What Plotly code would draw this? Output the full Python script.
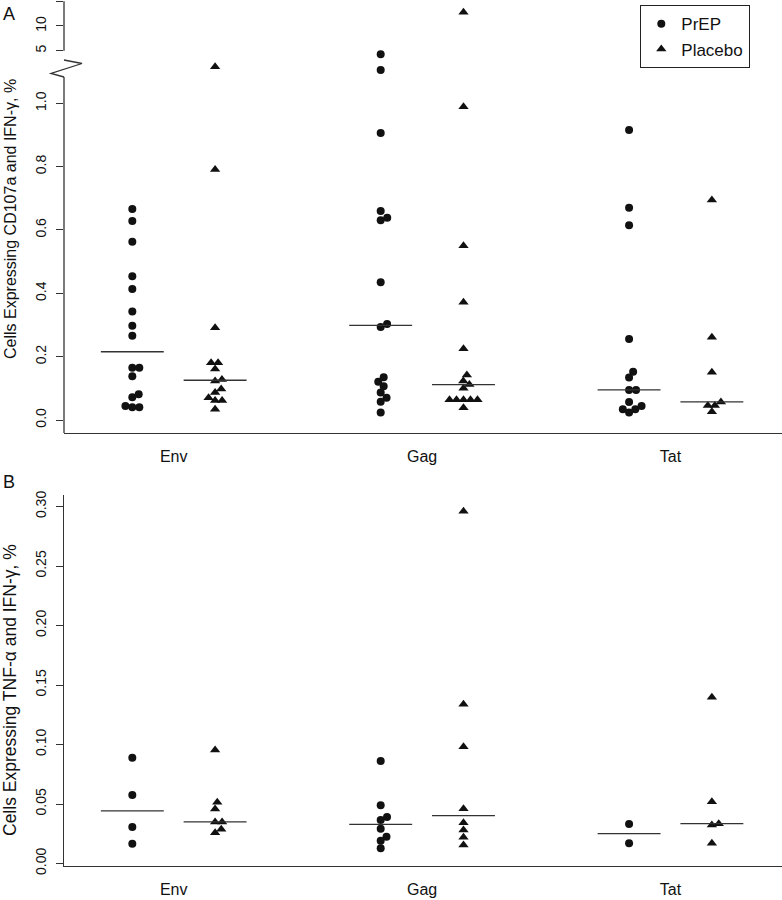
import numpy as np
import plotly.graph_objects as go

# ---------------- data ----------------
categories = ["Env", "Gag", "Tat"]
treatments = ["PrEP", "Placebo"]

# Panel A: cells expressing CD107a and IFN-gamma, %
A_env_prep = [0.666, 0.628, 0.563, 0.454, 0.414, 0.343, 0.298, 0.266, 0.165, 0.165,
              0.138, 0.081, 0.072, 0.044, 0.040, 0.040]
A_env_placebo = [1.115, 0.791, 0.291, 0.181, 0.181, 0.161, 0.128, 0.123, 0.098, 0.087,
                 0.070, 0.062, 0.062, 0.034]
A_gag_prep = [4.27, 1.105, 0.906, 0.660, 0.639, 0.631, 0.435, 0.303, 0.294, 0.135,
              0.121, 0.107, 0.087, 0.070, 0.058, 0.024]
A_gag_placebo = [12.77, 0.989, 0.550, 0.372, 0.225, 0.142, 0.123, 0.112, 0.100, 0.064,
                 0.064, 0.064, 0.064, 0.064, 0.039]
A_tat_prep = [0.916, 0.670, 0.615, 0.256, 0.152, 0.134, 0.095, 0.095, 0.057, 0.044,
              0.034, 0.034, 0.024]
A_tat_placebo = [0.695, 0.261, 0.151, 0.057, 0.046, 0.046, 0.026]

# Panel B: cells expressing TNF-alpha and IFN-gamma, %
B_env_prep = [0.0889, 0.0576, 0.0307, 0.0167]
B_env_placebo = [0.0954, 0.0514, 0.0458, 0.0349, 0.0349, 0.0287, 0.0259]
B_gag_prep = [0.0861, 0.0489, 0.0391, 0.0366, 0.0293, 0.0225, 0.0192, 0.0128]
B_gag_placebo = [0.296, 0.1338, 0.0982, 0.0461, 0.0343, 0.0282, 0.0220, 0.0155]
B_tat_prep = [0.0332, 0.0170]
B_tat_placebo = [0.1397, 0.0519, 0.0335, 0.0324, 0.0170]

A_lower_ticks = [0.0, 0.2, 0.4, 0.6, 0.8, 1.0]
A_upper_ticks = [5, 10, 15]
A_upper_ticklabels = ["5", "10", ""]
B_ticks = [0.00, 0.05, 0.10, 0.15, 0.20, 0.25, 0.30]

GAP_VALUE = 2.0  # values above the axis break go to the upper segment

panelA = {"PrEP": [A_env_prep, A_gag_prep, A_tat_prep],
          "Placebo": [A_env_placebo, A_gag_placebo, A_tat_placebo]}
panelB = {"PrEP": [B_env_prep, B_gag_prep, B_tat_prep],
          "Placebo": [B_env_placebo, B_gag_placebo, B_tat_placebo]}

# ---------------- layout geometry (pixels) ----------------
W, H = 782, 900
X_LEFT = 64
XR = [0.175, 8.847]
A_BOT, A_SPLIT, A_TOP = 433, 58, 0
A_LOW_R = [-0.041, 1.143]
A_UP_R = [3.52, 15.26]
B_BOT, B_TOP = 866, 495
B_R = [-0.0021, 0.3097]

PX_X = (W - X_LEFT) / (XR[1] - XR[0])
PX_A_LOW = (A_BOT - A_SPLIT) / (A_LOW_R[1] - A_LOW_R[0])
PX_A_UP = (A_SPLIT - A_TOP) / (A_UP_R[1] - A_UP_R[0])
PX_B = (B_BOT - B_TOP) / (B_R[1] - B_R[0])


def fy(px):
    return 1 - px / H


def fx(px):
    return px / W


def swarm(values, y_scale, d=7.0):
    v = np.asarray(values, float)
    order = np.argsort(v, kind="stable")
    placed = []
    off = np.zeros(len(v))
    for i in order:
        y = v[i] * y_scale
        cands = [0.0]
        for xj, yj in placed:
            dy = abs(y - yj)
            if dy < d:
                dx = np.sqrt(d * d - dy * dy)
                cands.extend([xj + dx, xj - dx])
        ok = [c for c in cands
              if all((c - xj) ** 2 + (y - yj) ** 2 >= d * d - 1e-6 for xj, yj in placed)]
        best = min(ok, key=lambda c: (round(abs(c), 6), -c))
        off[i] = best
        placed.append((best, y))
    return off / PX_X


def position(ci, ti):
    return 3 * ci + 1 + ti


SYMBOLS = {"PrEP": "circle", "Placebo": "triangle-up"}
SIZES = {"PrEP": 8, "Placebo": 9}
INK = "#111111"
FONT = "Liberation Sans, Arial, Helvetica, sans-serif"

fig = go.Figure()

# ---- panel A ----
for ti, t in enumerate(treatments):
    xl, yl, xu, yu = [], [], [], []
    for ci, vals in enumerate(panelA[t]):
        vals = np.asarray(vals, float)
        low = vals[vals <= GAP_VALUE]
        up = vals[vals > GAP_VALUE]
        p = position(ci, ti)
        if len(low):
            xl += list(p + swarm(low, PX_A_LOW))
            yl += list(low)
        if len(up):
            xu += list(p + swarm(up, PX_A_UP))
            yu += list(up)
    fig.add_trace(go.Scatter(x=xl, y=yl, mode="markers", name=t, xaxis="x", yaxis="y",
                             marker=dict(symbol=SYMBOLS[t], size=SIZES[t], color=INK,
                                         line=dict(width=0)),
                             showlegend=True, cliponaxis=False))
    fig.add_trace(go.Scatter(x=xu, y=yu, mode="markers", name=t, xaxis="x", yaxis="y2",
                             marker=dict(symbol=SYMBOLS[t], size=SIZES[t], color=INK,
                                         line=dict(width=0)),
                             showlegend=False, cliponaxis=False))

# ---- panel B ----
for ti, t in enumerate(treatments):
    xs, ys = [], []
    for ci, vals in enumerate(panelB[t]):
        vals = np.asarray(vals, float)
        p = position(ci, ti)
        xs += list(p + swarm(vals, PX_B))
        ys += list(vals)
    fig.add_trace(go.Scatter(x=xs, y=ys, mode="markers", name=t, xaxis="x2", yaxis="y3",
                             marker=dict(symbol=SYMBOLS[t], size=SIZES[t], color=INK,
                                         line=dict(width=0)),
                             showlegend=False, cliponaxis=False))

# ---- medians ----
HALF = 0.38
for panel, xa, ya in [(panelA, "x", "y"), (panelB, "x2", "y3")]:
    mx, my = [], []
    for ti, t in enumerate(treatments):
        for ci, vals in enumerate(panel[t]):
            m = float(np.median(vals))
            p = position(ci, ti)
            mx += [p - HALF, p + HALF, None]
            my += [m, m, None]
    fig.add_trace(go.Scatter(x=mx, y=my, mode="lines", xaxis=xa, yaxis=ya,
                             line=dict(color="#333333", width=1.3),
                             showlegend=False, hoverinfo="skip"))

tick_font = dict(family=FONT, size=14, color=INK)
xtick_font = dict(family=FONT, size=16, color=INK)
xdom = [fx(X_LEFT), 1.0]

common_x = dict(range=XR, domain=xdom, showgrid=False, zeroline=False, showline=True,
                linecolor="#333333", linewidth=1.3, ticks="", automargin=False,
                tickvals=[position(ci, 0.5) for ci in range(len(categories))],
                ticktext=categories, tickfont=xtick_font, ticklabelstandoff=9)
common_y = dict(showgrid=False, zeroline=False, ticks="outside", ticklen=7,
                tickwidth=1.3, tickcolor="#333333", tickangle=-90, tickfont=tick_font,
                ticklabelstandoff=4, automargin=False)

fig.update_layout(
    template="none",
    width=W, height=H, margin=dict(l=0, r=0, t=0, b=0, pad=0, autoexpand=False),
    paper_bgcolor="white", plot_bgcolor="white",
    font=dict(family=FONT, color=INK),
    xaxis=dict(common_x, anchor="y"),
    xaxis2=dict(common_x, anchor="y3"),
    yaxis=dict(common_y, domain=[fy(A_BOT), fy(A_SPLIT)], range=A_LOW_R, anchor="x",
               tickvals=A_lower_ticks, tickformat=".1f", showline=False),
    yaxis2=dict(common_y, domain=[fy(A_SPLIT), fy(A_TOP)], range=A_UP_R, anchor="x",
                tickvals=A_upper_ticks, ticktext=A_upper_ticklabels, showline=False),
    yaxis3=dict(common_y, domain=[fy(B_BOT), fy(B_TOP)], range=B_R, anchor="x2",
                tickvals=B_ticks, tickformat=".2f", showline=True,
                linecolor="#333333", linewidth=1.3),
    legend=dict(x=fx(640), y=fy(5), xanchor="left", yanchor="top",
                bordercolor="#222222", borderwidth=1.3, bgcolor="white",
                font=dict(family=FONT, size=17, color=INK), itemwidth=30,
                tracegroupgap=0),
    showlegend=True,
)

# axis lines for the broken axis of panel A, plus the break mark
ax_x = fx(X_LEFT)
shapes = [
    dict(type="line", xref="paper", yref="paper", x0=ax_x, x1=ax_x,
         y0=fy(A_BOT), y1=fy(77), line=dict(color="#333333", width=1.3)),
    dict(type="line", xref="paper", yref="y2", x0=ax_x, x1=ax_x,
         y0=A_upper_ticks[0], y1=A_upper_ticks[-1], line=dict(color="#333333", width=1.3)),
    dict(type="path", xref="paper", yref="paper",
         path=f"M {ax_x},{fy(60)} L {fx(82)},{fy(63.5)} L {fx(51)},{fy(73.5)} L {ax_x},{fy(77)}",
         line=dict(color="#333333", width=1.3)),
]
fig.update_layout(shapes=shapes)

fig.update_layout(annotations=[
    dict(text="A", x=fx(1), y=fy(2), xref="paper", yref="paper", xanchor="left",
         yanchor="top", showarrow=False, font=dict(family=FONT, size=18, color=INK)),
    dict(text="B", x=fx(1), y=fy(470), xref="paper", yref="paper", xanchor="left",
         yanchor="top", showarrow=False, font=dict(family=FONT, size=18, color=INK)),
    dict(text="Cells Expressing CD107a and IFN-γ, %", textangle=-90, x=fx(10),
         y=fy(219), xref="paper", yref="paper", xanchor="center", yanchor="middle",
         showarrow=False, font=dict(family=FONT, size=16, color=INK)),
    dict(text="Cells Expressing TNF-α and IFN-γ, %", textangle=-90, x=fx(10),
         y=fy(690), xref="paper", yref="paper", xanchor="center", yanchor="middle",
         showarrow=False, font=dict(family=FONT, size=17.5, color=INK)),
])

fig.write_html("out.html",
               config={"displayModeBar": False},
               post_script="document.body.style.margin='0px';"
                           "document.body.style.overflow='hidden';")
